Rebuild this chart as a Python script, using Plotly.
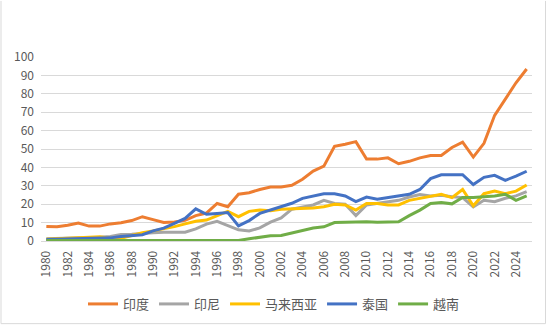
import plotly.graph_objects as go

years = list(range(1980, 2026))

india = [7.9, 7.7, 8.6, 9.7, 8.1, 8.1, 9.3, 9.9, 11.1, 13.2,
         11.6, 10.1, 10.3, 11.2, 13.8, 15.2, 20.4, 18.6, 25.4, 26.2,
         28.0, 29.3, 29.4, 30.3, 33.6, 38.0, 40.7, 51.5, 52.6, 54.0,
         44.5, 44.5, 45.2, 42.0, 43.3, 45.2, 46.5, 46.5, 50.8, 53.7,
         45.6, 53.1, 68.3, 77.1, 86.0, 93.5]
indonesia = [1.2, 1.3, 1.5, 1.8, 2.0, 2.0, 2.5, 3.5, 3.7, 3.9,
             4.5, 4.8, 5.0, 4.8, 6.6, 9.2, 10.7, 8.4, 6.1, 5.4,
             7.1, 10.2, 12.5, 17.3, 18.6, 19.6, 22.1, 20.4, 20.0, 13.8,
             19.6, 20.4, 21.4, 22.1, 23.9, 25.2, 24.5, 24.8, 24.1, 23.6,
             18.6, 22.1, 21.4, 23.2, 24.5, 26.8]
malaysia = [1.0, 1.2, 1.5, 2.0, 2.2, 2.3, 1.5, 1.5, 3.0, 4.5,
            5.5, 6.5, 7.8, 9.3, 10.7, 11.4, 13.8, 16.1, 13.2, 16.1,
            16.8, 16.4, 17.3, 17.5, 17.6, 17.9, 18.6, 20.0, 19.6, 16.8,
            20.4, 20.4, 19.6, 19.6, 22.1, 23.2, 24.5, 25.4, 23.6, 28.0,
            19.1, 25.7, 27.1, 25.7, 27.1, 30.4]
thailand = [0.8, 0.9, 1.0, 1.2, 1.4, 1.5, 1.7, 2.4, 2.8, 3.4,
            5.5, 7.0, 9.6, 12.3, 17.5, 14.5, 15.0, 15.5, 8.2, 11.1,
            15.0, 16.8, 19.0, 20.5, 23.2, 24.5, 25.7, 25.7, 24.5, 21.4,
            23.9, 22.7, 23.6, 24.5, 25.4, 28.0, 33.9, 36.0, 36.0, 36.0,
            30.7, 34.6, 35.7, 33.0, 35.2, 37.9]
vietnam = [0.3, 0.3, 0.3, 0.3, 0.3, 0.3, 0.3, 0.3, 0.3, 0.3,
           0.3, 0.3, 0.3, 0.3, 0.3, 0.3, 0.3, 0.3, 0.3, 1.2,
           2.1, 2.8, 3.0, 4.5, 5.7, 7.1, 7.7, 10.0, 10.2, 10.5,
           10.5, 10.2, 10.3, 10.4, 13.8, 16.8, 20.4, 20.9, 20.2, 23.6,
           23.6, 23.9, 24.5, 25.4, 22.1, 24.5]

series = [("印度", india, "#ED7D31"),
          ("印尼", indonesia, "#A5A5A5"),
          ("马来西亚", malaysia, "#FFC000"),
          ("泰国", thailand, "#4472C4"),
          ("越南", vietnam, "#70AD47")]

tick_years = list(range(1980, 2025, 2))

fig = go.Figure()
for name, vals, color in series:
    fig.add_trace(go.Scatter(x=years, y=vals, name=name, mode="lines",
                             line=dict(color=color, width=3)))

W, H = 550, 331
L, R, T, B = 41, 18, 57, 87
pw, ph = W - L - R, H - T - B

def px(x):
    return (x - L) / pw

def py(y):
    return (H - B - y) / ph

border = "#D9D9D9"
shapes = [
    dict(type="line", xref="paper", yref="paper", x0=px(1), x1=px(1), y0=py(0), y1=py(328),
         line=dict(color=border, width=1)),
    dict(type="line", xref="paper", yref="paper", x0=px(545.5), x1=px(545.5), y0=py(0), y1=py(328),
         line=dict(color=border, width=1)),
    dict(type="line", xref="paper", yref="paper", x0=px(1), x1=px(545.5), y0=py(328), y1=py(328),
         line=dict(color=border, width=1)),
]

font_fam = "Noto Sans CJK SC, Noto Sans, sans-serif"
fig.update_layout(
    width=W, height=H,
    margin=dict(l=L, r=R, t=T, b=B),
    paper_bgcolor="white", plot_bgcolor="white",
    font=dict(family=font_fam, color="#595959", size=12),
    showlegend=True,
    legend=dict(orientation="h", x=px(274), xanchor="center", y=py(308), yanchor="middle",
                font=dict(size=13, color="#595959", family=font_fam),
                bgcolor="rgba(0,0,0,0)", itemwidth=30),
    shapes=shapes,
    xaxis=dict(range=[1979.5, 2025.5], tickmode="array", tickvals=tick_years,
               ticktext=[str(y) for y in tick_years], tickangle=-90,
               showgrid=False, zeroline=False, showline=True, linecolor=border, linewidth=1,
               ticks="", ticklabelstandoff=4,
               tickfont=dict(size=12, color="#595959", family=font_fam)),
    yaxis=dict(range=[0, 100], dtick=10, showgrid=True, gridcolor=border, gridwidth=1,
               zeroline=False, showline=False, ticks="", ticklabelstandoff=6,
               tickfont=dict(size=12, color="#595959", family=font_fam)),
)

fig.write_html("out.html")
